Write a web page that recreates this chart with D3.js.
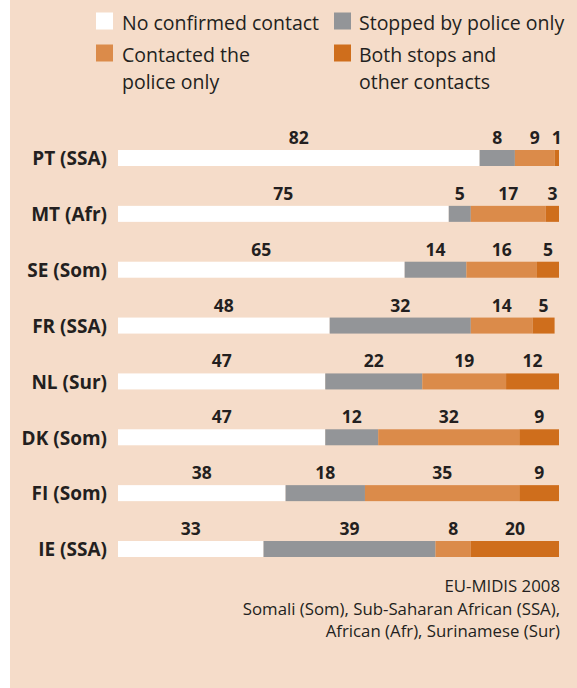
<!DOCTYPE html>
<html>
<head>
<meta charset="utf-8">
<script src="https://cdn.jsdelivr.net/npm/d3@7"></script>
<style>
  html, body { margin: 0; padding: 0; background: #ffffff; }
  svg { display: block; }
  text { font-family: "Open Sans", "Noto Sans", sans-serif; fill: #231f20; }
</style>
</head>
<body>
<svg id="chart" width="577" height="688"></svg>
<script>
// Police contact by group (%), EU-MIDIS 2008
const categories = ["PT (SSA)", "MT (Afr)", "SE (Som)", "FR (SSA)", "NL (Sur)", "DK (Som)", "FI (Som)", "IE (SSA)"];
const noContact     = [82, 75, 65, 48, 47, 47, 38, 33];
const stoppedOnly   = [8, 5, 14, 32, 22, 12, 18, 39];
const contactedOnly = [9, 17, 16, 14, 19, 32, 35, 8];
const bothContacts  = [1, 3, 5, 5, 12, 9, 9, 20];

const seriesKeys = ["noContact", "stoppedOnly", "contactedOnly", "bothContacts"];
const seriesLabels = [
  ["No confirmed contact"],
  ["Stopped by police only"],
  ["Contacted the", "police only"],
  ["Both stops and", "other contacts"]
];
const footnotes = [
  "EU-MIDIS 2008",
  "Somali (Som), Sub-Saharan African (SSA),",
  "African (Afr), Surinamese (Sur)"
];

const colors = ["#ffffff", "#939598", "#db8b4a", "#cf6e1c"];

const rows = categories.map((c, i) => ({
  category: c,
  noContact: noContact[i],
  stoppedOnly: stoppedOnly[i],
  contactedOnly: contactedOnly[i],
  bothContacts: bothContacts[i]
}));

const svg = d3.select("#chart");

// panel background
svg.append("rect")
  .attr("x", 10).attr("y", 0)
  .attr("width", 567).attr("height", 688)
  .attr("fill", "#f5dcc9");

const x = d3.scaleLinear().domain([0, 100]).range([118, 559]);
const y = d3.scalePoint().domain(categories).range([158, 549]);
const barH = 16;

const color = d3.scaleOrdinal().domain(seriesKeys).range(colors);
const stacked = d3.stack().keys(seriesKeys)(rows);

const layers = svg.append("g").selectAll("g")
  .data(stacked)
  .join("g")
  .attr("fill", d => color(d.key));

layers.selectAll("rect")
  .data(d => d)
  .join("rect")
  .attr("x", d => x(d[0]))
  .attr("y", d => y(d.data.category) - barH / 2)
  .attr("width", d => x(d[1]) - x(d[0]))
  .attr("height", barH);

// value labels above each segment
layers.selectAll("text")
  .data(d => d.map(v => ({ v, key: d.key })))
  .join("text")
  .attr("x", d => (x(d.v[0]) + x(d.v[1])) / 2)
  .attr("y", d => y(d.v.data.category) - barH / 2 - 6)
  .attr("text-anchor", "middle")
  .attr("font-size", 17.5)
  .attr("font-weight", 700)
  .attr("fill", "#231f20")
  .text(d => d.v.data[d.key]);

// category labels
const yAxis = d3.axisLeft(y).tickSize(0).tickPadding(0);
const axisG = svg.append("g")
  .attr("transform", "translate(107,0)")
  .call(yAxis);
axisG.select(".domain").remove();
axisG.selectAll("text")
  .attr("font-family", "\"Open Sans\", sans-serif")
  .attr("font-size", 19)
  .attr("font-weight", 700)
  .attr("fill", "#231f20")
  .attr("dy", "0.36em");

// legend
const legendPos = [
  { sx: 96, tx: 122, sy: 12.5 },
  { sx: 334, tx: 359, sy: 12.5 },
  { sx: 96, tx: 122, sy: 44.5 },
  { sx: 334, tx: 359, sy: 44.5 }
];
const legend = svg.append("g").selectAll("g")
  .data(seriesKeys)
  .join("g");
legend.append("rect")
  .attr("x", (d, i) => legendPos[i].sx)
  .attr("y", (d, i) => legendPos[i].sy)
  .attr("width", 17).attr("height", 17)
  .attr("fill", d => color(d));
legend.append("text")
  .attr("font-size", 19.5)
  .selectAll("tspan")
  .data((d, i) => seriesLabels[i].map(t => ({ t, i })))
  .join("tspan")
  .attr("x", d => legendPos[d.i].tx)
  .attr("y", (d, j) => legendPos[d.i].sy + 17 + j * 27)
  .text(d => d.t);

// source note
svg.append("g").selectAll("text")
  .data(footnotes)
  .join("text")
  .attr("x", 560)
  .attr("y", (d, i) => 592 + i * 22.5)
  .attr("text-anchor", "end")
  .attr("font-size", 16.8)
  .text(d => d);
</script>
</body>
</html>
